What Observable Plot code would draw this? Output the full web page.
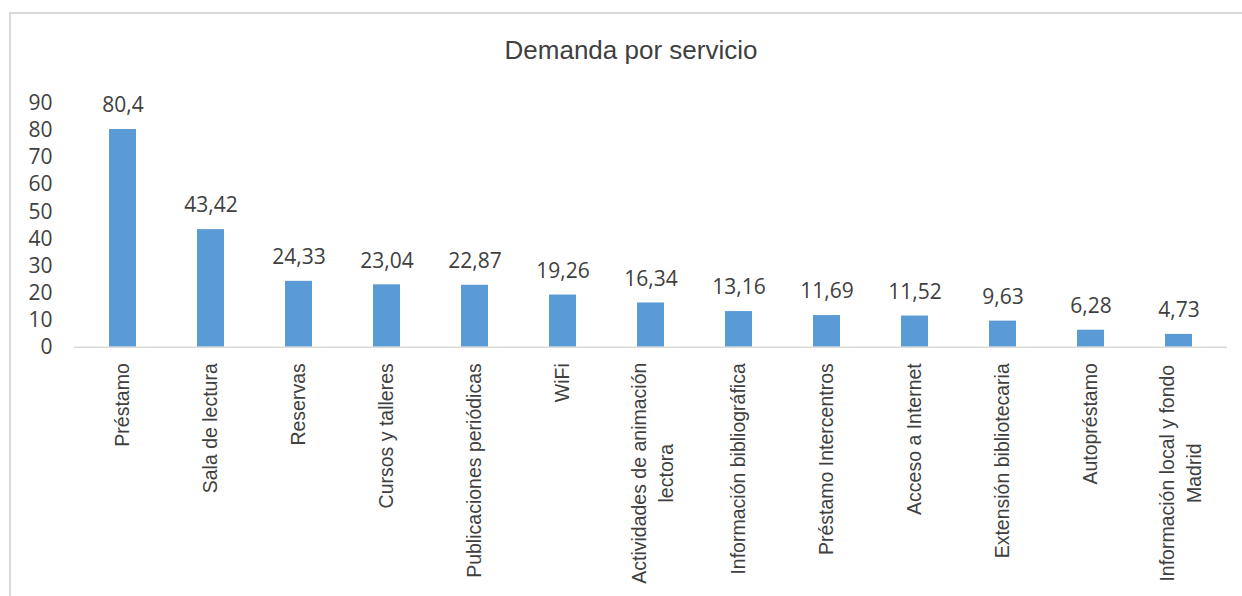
<!DOCTYPE html>
<html>
<head>
<meta charset="utf-8">
<script src="https://cdn.jsdelivr.net/npm/d3@7"></script>
<script src="https://cdn.jsdelivr.net/npm/@observablehq/plot@0.6"></script>
<style>
  html, body { margin: 0; padding: 0; background: #fff; }
  #wrap { position: relative; width: 1242px; height: 596px; overflow: hidden; background: #fff; }
  #frame { position: absolute; left: 9px; top: 12px; right: 0; bottom: 0;
           border-left: 2px solid #d9d9d9; border-top: 2px solid #d9d9d9; pointer-events: none; }
  #title { height: 72px; box-sizing: border-box; padding-top: 35px; padding-left: 20px;
           text-align: center; font-family: "Liberation Sans", Arial, sans-serif; font-size: 26px;
           line-height: 30px; color: #404040; }
  #chart svg { display: block; }
</style>
</head>
<body>
<div id="wrap">
  <div id="frame"></div>
  <div id="title">Demanda por servicio</div>
  <div id="chart"></div>
</div>
<script>
const categorias = [
  "Préstamo",
  "Sala de lectura",
  "Reservas",
  "Cursos y talleres",
  "Publicaciones periódicas",
  "WiFi",
  "Actividades de animación\nlectora",
  "Información bibliográfica",
  "Préstamo Intercentros",
  "Acceso a Internet",
  "Extensión bibliotecaria",
  "Autopréstamo",
  "Información local y fondo\nMadrid"
];
const valores = [80.4, 43.42, 24.33, 23.04, 22.87, 19.26, 16.34, 13.16, 11.69, 11.52, 9.63, 6.28, 4.73];
const etiquetasValor = ["80,4", "43,42", "24,33", "23,04", "22,87", "19,26", "16,34", "13,16", "11,69", "11,52", "9,63", "6,28", "4,73"];
const ticksY = [0, 10, 20, 30, 40, 50, 60, 70, 80, 90];

const datos = categorias.map((c, i) => ({cat: c, val: valores[i], etiqueta: etiquetasValor[i]}));
const simples = datos.filter(d => !d.cat.includes("\n"));
const dobles = datos.filter(d => d.cat.includes("\n"));

const textColor = "#404040";

const chart = Plot.plot({
  width: 1242,
  height: 524,
  marginLeft: 74,
  marginRight: 15,
  marginTop: 31,
  marginBottom: 249.3,
  style: {background: "transparent", fontFamily: "'Open Sans', sans-serif", color: textColor, overflow: "visible"},
  x: {domain: categorias, paddingInner: 0.69, paddingOuter: 0.345, axis: null},
  y: {domain: [0, 90], axis: null},
  marks: [
    Plot.axisY({ticks: ticksY, tickSize: 0, tickPadding: 22, fontSize: 21, fill: textColor, label: null, tickFormat: d => String(d)}),
    Plot.barY(datos, {x: "cat", y: "val", fill: "#5B9BD5"}),
    Plot.ruleY([0], {stroke: "#d9d9d9", strokeWidth: 1.5}),
    Plot.text(datos, {x: "cat", y: "val", text: "etiqueta", dy: -24, lineAnchor: "middle", fontSize: 21, fill: textColor}),
    Plot.text(simples, {x: "cat", frameAnchor: "bottom", text: "cat", rotate: -90, textAnchor: "end", lineAnchor: "middle",
      dy: 16, fontSize: 19.5, fontFamily: "'Liberation Sans', Arial, sans-serif", fill: textColor}),
    Plot.text(dobles, {x: "cat", frameAnchor: "bottom", text: "cat", rotate: -90, textAnchor: "middle", lineAnchor: "middle",
      dy: 126, lineHeight: 1.35, fontSize: 19.5, fontFamily: "'Liberation Sans', Arial, sans-serif", fill: textColor})
  ]
});
document.getElementById("chart").appendChild(chart);
</script>
</body>
</html>
